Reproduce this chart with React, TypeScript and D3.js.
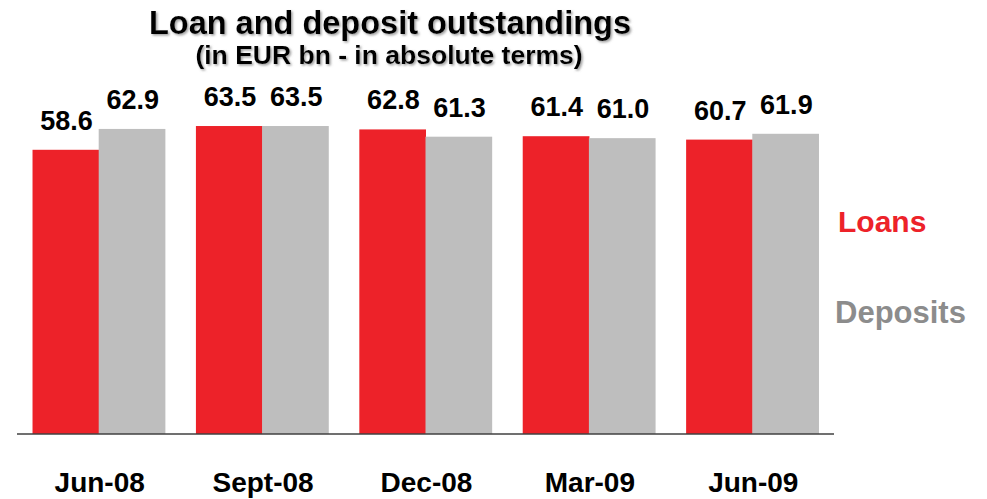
import React from "react";
import * as d3 from "d3";

const categories = ["Jun-08", "Sept-08", "Dec-08", "Mar-09", "Jun-09"];
const seriesNames = ["Loans", "Deposits"];
const loans = [58.6, 63.5, 62.8, 61.4, 60.7];
const deposits = [62.9, 63.5, 61.3, 61.0, 61.9];
const colors = ["#ED2229", "#BEBEBE"];
const legendColors = ["#ED2229", "#8C8C8C"];

const W = 987;
const H = 499;
const FONT = "'Liberation Sans', Arial, sans-serif";

export default function App() {
  const x = d3.scaleBand<string>().domain(categories).range([17, 834]).paddingInner(0.19).paddingOuter(0.095);
  const x1 = d3.scaleBand<string>().domain(seriesNames).range([0, x.bandwidth()]);
  const y = d3.scaleLinear().domain([0, 70]).range([434, 434 - 70 * 4.85]);
  const series = [loans, deposits];

  return (
    <svg width={W} height={H} style={{ position: "absolute", left: 0, top: 0, background: "#fff" }}>
      <defs>
        <filter id="shadow" x="-5%" y="-20%" width="110%" height="150%">
          <feDropShadow dx={1.5} dy={1.5} stdDeviation={0.8} floodColor="#888" floodOpacity={0.8} />
        </filter>
      </defs>
      <rect width={W} height={H} fill="#fff" />
      <g fontFamily={FONT} fontWeight="bold" textAnchor="middle" filter="url(#shadow)">
        <text x={390} y={34} fontSize={32.5} fill="#000">Loan and deposit outstandings</text>
        <text x={389} y={64} fontSize={26.5} fill="#000">(in EUR bn - in absolute terms)</text>
      </g>
      {categories.map((c, i) => (
        <g key={c} transform={`translate(${x(c)},0)`}>
          {series.map((s, j) => {
            const bx = x1(seriesNames[j])!;
            const v = s[i];
            return (
              <g key={j}>
                <rect x={bx} y={y(v)} width={x1.bandwidth() + 0.5} height={y(0) - y(v)} fill={colors[j]} />
                <text
                  x={bx + x1.bandwidth() / 2 + 1}
                  y={y(v) - 20}
                  textAnchor="middle"
                  fontFamily={FONT}
                  fontWeight="bold"
                  fontSize={27}
                  fill="#000"
                >
                  {v.toFixed(1)}
                </text>
              </g>
            );
          })}
          <text
            x={x.bandwidth() / 2 + 1}
            y={492}
            textAnchor="middle"
            fontFamily={FONT}
            fontWeight="bold"
            fontSize={28}
            fill="#000"
          >
            {c}
          </text>
        </g>
      ))}
      <line x1={17} x2={834} y1={434} y2={434} stroke="#404040" strokeWidth={1.5} />
      <text x={838} y={232} fontFamily={FONT} fontWeight="bold" fontSize={30} fill={legendColors[0]}>{seriesNames[0]}</text>
      <text x={835} y={323} fontFamily={FONT} fontWeight="bold" fontSize={31} fill={legendColors[1]}>{seriesNames[1]}</text>
    </svg>
  );
}
